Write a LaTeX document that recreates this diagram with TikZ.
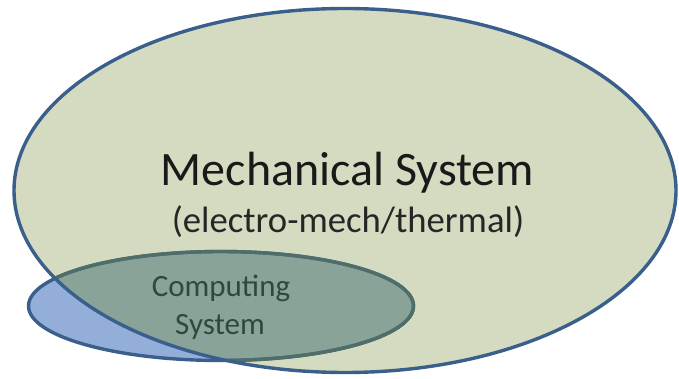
\documentclass[tikz,border=0pt]{standalone}
\usepackage{fontspec}
\setmainfont{Carlito}
\usetikzlibrary{positioning}
\definecolor{mechfill}{RGB}{212,219,192}
\definecolor{mechline}{RGB}{58,95,140}
\definecolor{compblue}{RGB}{148,174,218}
\definecolor{compover}{RGB}{138,163,152}
\definecolor{compline}{RGB}{80,110,104}
\definecolor{comptext}{RGB}{45,74,60}

\begin{document}
\begin{tikzpicture}[x=1pt,y=-1pt,line join=bevel,
    rim/.style={line width=3.4pt},
    label/.style={inner sep=0pt,anchor=base}]
            \useasboundingbox (0,0) rectangle (679,379);
            \coordinate (M) at (345,190.5);
            \coordinate (C) at (221,306);

            % mechanical system
            \fill [mechfill] (M) ellipse [x radius=331, y radius=182];
            % computing system, outside and inside
            \fill [compblue] (C) ellipse [x radius=192.5, y radius=54.5];
            \begin{scope}
                \clip (M) ellipse [x radius=331, y radius=182];
                \fill [compover] (C) ellipse [x radius=192.5, y radius=54.5];
            \end{scope}
            \draw [rim, mechline] (C) ellipse [x radius=192.5, y radius=54.5];
            \begin{scope}
                \clip (M) ellipse [x radius=331, y radius=182];
                \draw [rim, compline] (C) ellipse [x radius=192.5, y radius=54.5];
            \end{scope}
            \draw [rim, mechline] (M) ellipse [x radius=331, y radius=182];

            \node [label, text=black!90, font=\fontsize{48}{48}\selectfont] (mech) at (347.5,186) {Mechanical System};
            \node [label, text=black!85, font=\fontsize{36.7}{36.7}\selectfont] (mechsub) at (348,233) {(electro-mech/thermal)};
            \node [label, text=comptext, font=\fontsize{31}{31}\selectfont] (comp) at (221,296) {Computing};
            \node [label, text=comptext, font=\fontsize{31}{31}\selectfont] (compsub) at (220,334) {System};
        \end{tikzpicture}
\end{document}
